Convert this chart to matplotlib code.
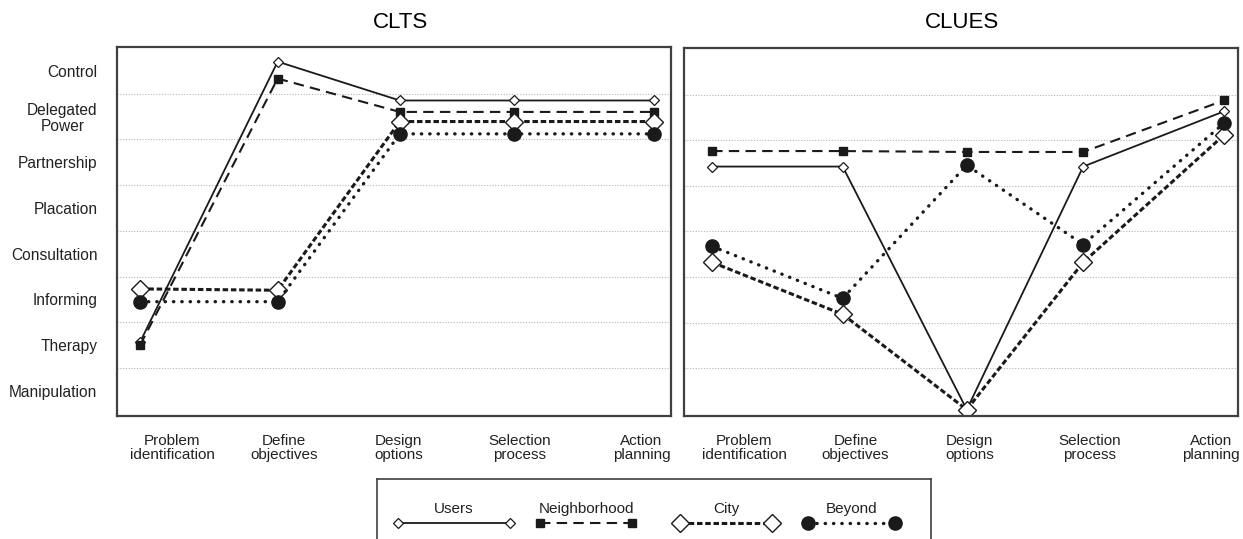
import matplotlib.pyplot as plt

plt.rcParams['font.family'] = ['Liberation Sans', 'DejaVu Sans']

# ladder of participation levels (0 = Manipulation ... 7 = Control)
levels = ['Manipulation', 'Therapy', 'Informing', 'Consultation', 'Placation',
          'Partnership', 'Delegated\nPower', 'Control']
stages = ['Problem\nidentification', 'Define\nobjectives', 'Design\noptions',
          'Selection\nprocess', 'Action\nplanning']
series_names = ['Users', 'Neighborhood', 'City', 'Beyond']

clts_users = [1.07, 7.2, 6.35, 6.35, 6.35]
clts_neighborhood = [1.0, 6.83, 6.1, 6.1, 6.1]
clts_city = [2.23, 2.2, 5.89, 5.89, 5.89]
clts_beyond = [1.95, 1.95, 5.62, 5.62, 5.62]

clues_users = [4.92, 4.92, -0.41, 4.92, 6.13]
clues_neighborhood = [5.26, 5.26, 5.24, 5.24, 6.37]
clues_city = [2.82, 1.68, -0.41, 2.82, 5.61]
clues_beyond = [3.17, 2.03, 4.95, 3.21, 5.87]

ink = '#1a1a1a'
styles = {
    'Users': dict(color=ink, lw=1.3, ls='-', marker='D', ms=5.5,
                  mfc='white', mec=ink, mew=0.9),
    'Neighborhood': dict(color=ink, lw=1.5, ls=(0, (5, 3)), marker='s', ms=6,
                         mfc=ink, mec=ink),
    'City': dict(color=ink, lw=2.2, ls=(0, (1.8, 0.9)), marker='D', ms=9,
                 mfc='white', mec=ink, mew=1.0),
    'Beyond': dict(color=ink, lw=2.4, ls=(0, (0.1, 2.4)), dash_capstyle='round',
                   marker='o', ms=9.5, mfc=ink, mec=ink),
}

fig = plt.figure(figsize=(12.43, 5.39), dpi=100)
ax1 = fig.add_axes([117/1243, 123/539, 554/1243, 369/539])
ax2 = fig.add_axes([684/1243, 123/539, 554/1243, 368/539])

# stage positions on the x axis (the original spacing is slightly uneven)
stage_x1 = [0, 1.07, 2.02, 2.91, 4.0]
stage_x2 = [0, 1.02, 1.99, 2.9, 4.0]
tick_pos = [0.25, 1.12, 2.01, 2.95, 3.9]

panels = [
    (ax1, stage_x1, [clts_users, clts_neighborhood, clts_city, clts_beyond], (-0.18, 4.13)),
    (ax2, stage_x2, [clues_users, clues_neighborhood, clues_city, clues_beyond], (-0.22, 4.11)),
]
for ax, xs, data, xl in panels:
    for name, vals in zip(series_names, data):
        ax.plot(xs, vals, **styles[name])
    ax.set_xlim(*xl)
    ax.set_ylim(-0.55, 7.52)
    ax.set_yticks(range(len(levels)))
    ax.set_yticks([i + 0.5 for i in range(7)], minor=True)
    ax.grid(True, which='minor', axis='y', color='#b5b5b5', ls=(0, (1, 1.5)), lw=0.8)
    ax.set_axisbelow(True)
    ax.set_xticks(tick_pos)
    ax.set_xticklabels(stages, fontsize=11, color='#222222', linespacing=1.0)
    ax.tick_params(axis='x', length=0, pad=13)
    ax.tick_params(axis='y', which='both', length=0)
    for sp in ax.spines.values():
        sp.set_color('#404040')
        sp.set_linewidth(1.6)

ax1.set_yticklabels(levels, fontsize=11.2, color='#222222', multialignment='center',
                    linespacing=1.05)
ax1.tick_params(axis='y', pad=14)
ax2.set_yticklabels([])

fig.text(401/1243, 1 - 22/539, 'CLTS', ha='center', va='center', fontsize=16)
fig.text(962/1243, 1 - 22/539, 'CLUES', ha='center', va='center', fontsize=16)

# legend panel: labels sit above their line samples
lg = fig.add_axes([377/1243, -0.03, 554/1243, 60/539 + 0.03])
lg.set_xlim(0, 554)
lg.set_ylim(-16, 60)
lg.set_xticks([])
lg.set_yticks([])
for sp in lg.spines.values():
    sp.set_color('#404040')
    sp.set_linewidth(1.2)
samples = {'Users': (21, 133), 'Neighborhood': (163, 255),
           'City': (303, 395), 'Beyond': (431, 518)}
for name in series_names:
    x0, x1 = samples[name]
    lg.plot([x0, x1], [16, 16], **styles[name])
    lg.text((x0 + x1) / 2, 30, name, ha='center', va='center', fontsize=11,
            color='#222222')

fig.savefig('out.png', dpi=100)
